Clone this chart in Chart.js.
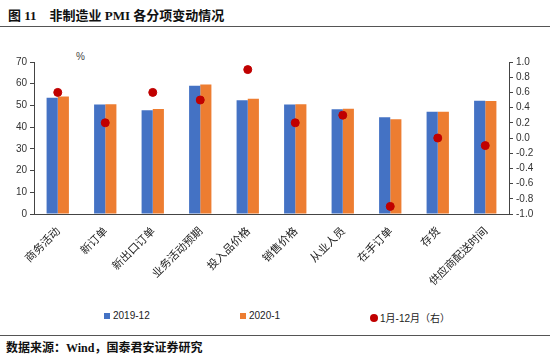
<!DOCTYPE html>
<html>
<head>
<meta charset="utf-8">
<script src="https://cdn.jsdelivr.net/npm/chart.js@4/dist/chart.umd.min.js"></script>
<style>
  html, body { margin: 0; padding: 0; background: #fff; }
  body { width: 550px; height: 358px; position: relative; overflow: hidden; }
  .title { position: absolute; left: 8px; top: 5px; font: bold 13px "Liberation Serif", "Noto Sans CJK SC", serif; color: #111; white-space: pre; }
  .rule { position: absolute; left: 0; width: 550px; height: 1px; background: #555; }
  .source { position: absolute; left: 6px; top: 338px; font: bold 12px "Liberation Serif", "Noto Sans CJK SC", serif; color: #111; white-space: pre; }
  .unit { position: absolute; left: 76px; top: 51px; font: 10px "Liberation Sans", sans-serif; color: #444; }
  #wrap { position: absolute; left: 0; top: 30px; width: 550px; height: 270px; }
  .legend { position: absolute; top: 310px; font: 10px "Liberation Sans", "Noto Sans CJK SC", sans-serif; color: #222; display: flex; align-items: center; }
  .sw { display: inline-block; width: 6px; height: 6px; margin-right: 3px; }
  .dot { display: inline-block; width: 8px; height: 8px; border-radius: 50%; margin-right: 2px; }
</style>
</head>
<body>
<div class="title">图 11    非制造业 PMI 各分项变动情况</div>
<div class="rule" style="top:26px"></div>
<div class="unit">%</div>
<div id="wrap"><canvas id="chart"></canvas></div>
<div id="legend"></div>
<div class="rule" style="top:335px"></div>
<div class="source">数据来源：Wind，国泰君安证券研究</div>
<script>
const categories = ['商务活动', '新订单', '新出口订单', '业务活动预期', '投入品价格', '销售价格', '从业人员', '在手订单', '存货', '供应商配送时间'];
const dec2019 = [53.5, 50.4, 47.8, 59.1, 52.4, 50.4, 48.2, 44.5, 47.1, 52.2];
const jan2020 = [54.1, 50.6, 48.4, 59.6, 53.1, 50.5, 48.5, 43.6, 47.1, 52.0];
const changeYear = [0.6, 0.2, 0.6, 0.5, 0.9, 0.2, 0.3, -0.9, 0.0, -0.1];
const leftTicks = [0, 10, 20, 30, 40, 50, 60, 70];
const rightTicks = [-1.0, -0.8, -0.6, -0.4, -0.2, 0.0, 0.2, 0.4, 0.6, 0.8, 1.0];

const BLUE = '#4472C4', ORANGE = '#ED7D31', RED = '#C00000';
const tickFont = { family: '"Liberation Sans", sans-serif', size: 10 };

const chart = new Chart(document.getElementById('chart'), {
  type: 'bar',
  data: {
    labels: categories,
    datasets: [
      { label: '1月-12月（右）', type: 'line', data: changeYear, yAxisID: 'y1', showLine: false,
        pointRadius: 4, pointBackgroundColor: RED, pointBorderColor: RED, order: 0 },
      { label: '2019-12', data: dec2019, backgroundColor: BLUE, yAxisID: 'y', order: 1,
        categoryPercentage: 0.47, barPercentage: 1.0 },
      { label: '2020-1', data: jan2020, backgroundColor: ORANGE, yAxisID: 'y', order: 1,
        categoryPercentage: 0.47, barPercentage: 1.0 }
    ]
  },
  options: {
    responsive: true,
    maintainAspectRatio: false,
    animation: false,
    layout: { padding: { top: 32, left: 0, right: 0, bottom: 0 } },
    plugins: { legend: { display: false }, tooltip: { enabled: false } },
    scales: {
      x: {
        grid: { display: false },
        border: { display: true, color: '#444' },
        ticks: { minRotation: 45, maxRotation: 45, color: '#222', padding: 2,
          font: { family: '"Noto Sans CJK SC", sans-serif', size: 11 } },
        afterFit: s => { s.height = 86; }
      },
      y: {
        position: 'left', min: 0, max: 70,
        afterBuildTicks: s => { s.ticks = leftTicks.map(v => ({ value: v })); },
        grid: { drawOnChartArea: false, tickLength: 4, color: '#444' },
        border: { color: '#444' },
        ticks: { color: '#333', font: tickFont, padding: 3 },
        afterFit: s => { s.width = 34; }
      },
      y1: {
        position: 'right', min: -1, max: 1,
        afterBuildTicks: s => { s.ticks = rightTicks.map(v => ({ value: v })); },
        grid: { drawOnChartArea: false, tickLength: 4, color: '#444' },
        border: { color: '#444' },
        ticks: { color: '#333', font: tickFont, padding: 3, callback: v => v.toFixed(1) },
        afterFit: s => { s.width = 41; }
      }
    }
  }
});

// legend built from the datasets
const legendPos = { '2019-12': 104, '2020-1': 240, '1月-12月（右）': 370 };
const lg = document.getElementById('legend');
chart.data.datasets.forEach(ds => {
  const el = document.createElement('div');
  el.className = 'legend';
  el.style.left = legendPos[ds.label] + 'px';
  const mark = document.createElement('span');
  if (ds.type === 'line') { mark.className = 'dot'; mark.style.background = ds.pointBackgroundColor; }
  else { mark.className = 'sw'; mark.style.background = ds.backgroundColor; }
  el.appendChild(mark);
  el.appendChild(document.createTextNode(ds.label));
  lg.appendChild(el);
});
</script>
</body>
</html>
